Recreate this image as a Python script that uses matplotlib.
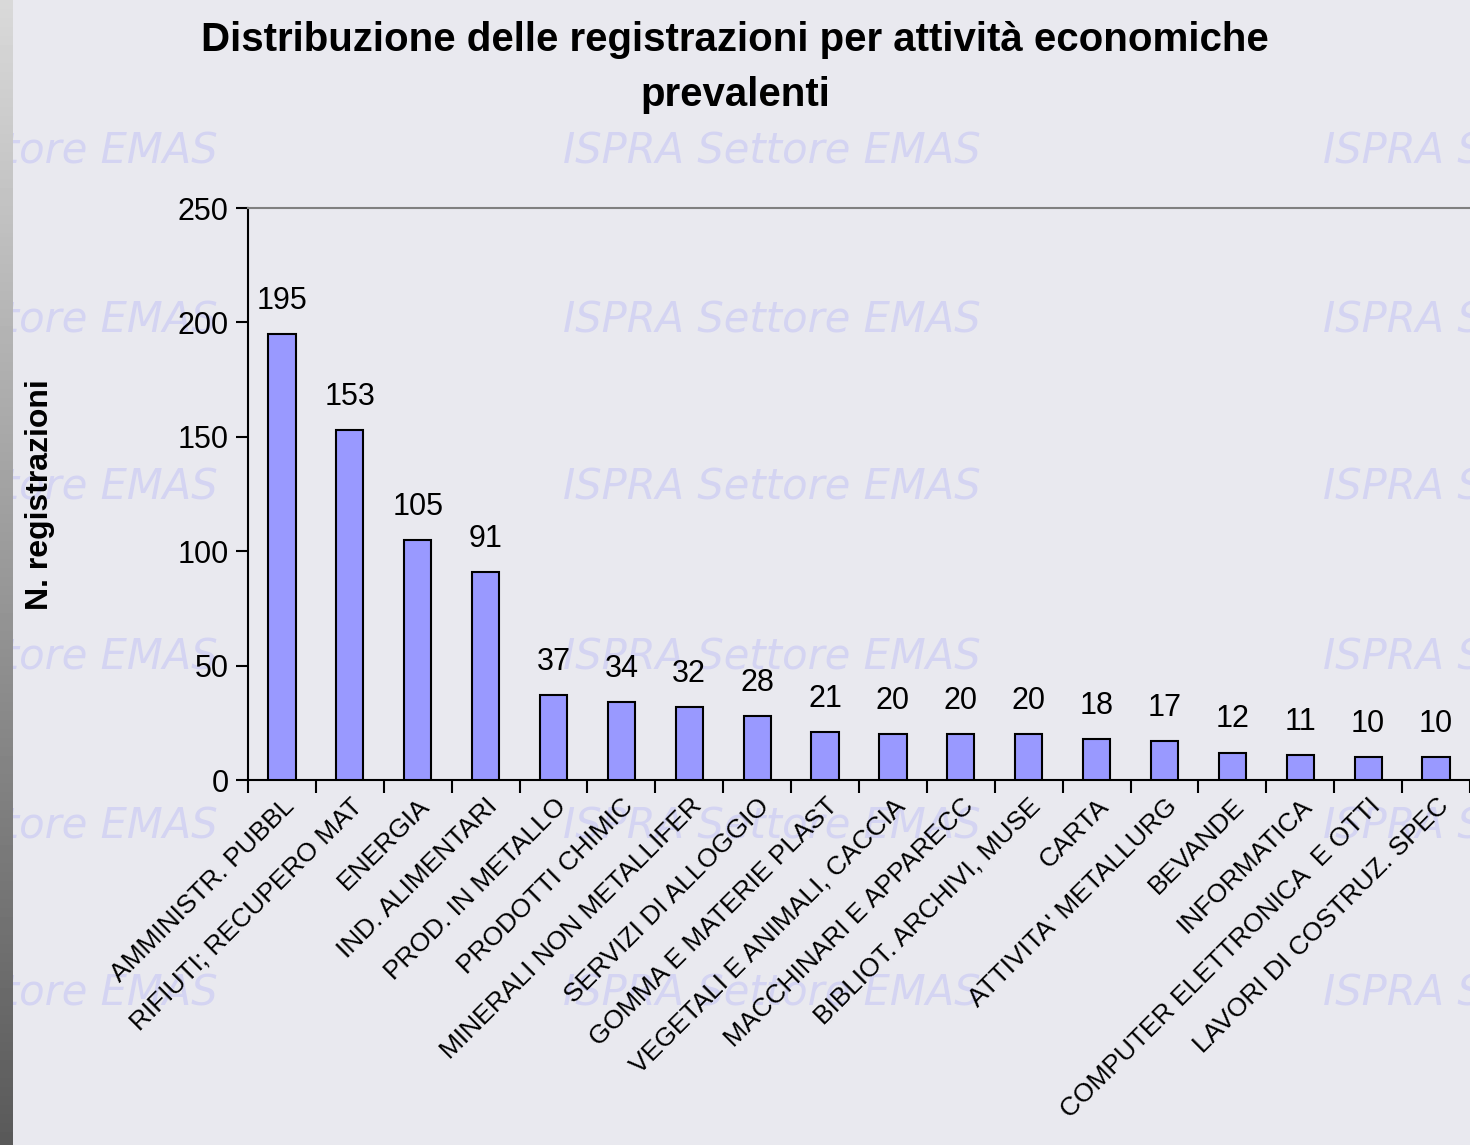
import matplotlib.pyplot as plt
import numpy as np

# dati
categorie = [
    "AMMINISTR. PUBBL",
    "RIFIUTI; RECUPERO MAT",
    "ENERGIA",
    "IND. ALIMENTARI",
    "PROD. IN METALLO",
    "PRODOTTI CHIMIC",
    "MINERALI NON METALLIFER",
    "SERVIZI DI ALLOGGIO",
    "GOMMA E MATERIE PLAST",
    "VEGETALI E ANIMALI, CACCIA",
    "MACCHINARI E APPARECC",
    "BIBLIOT. ARCHIVI, MUSE",
    "CARTA",
    "ATTIVITA' METALLURG",
    "BEVANDE",
    "INFORMATICA",
    "COMPUTER ELETTRONICA  E OTTI",
    "LAVORI DI COSTRUZ. SPEC",
]
registrazioni = [195, 153, 105, 91, 37, 34, 32, 28, 21, 20, 20, 20, 18, 17, 12, 11, 10, 10]
y_ticks = [0, 50, 100, 150, 200, 250]

sfondo = "#E9E9EF"
barre = "#9999FF"

plt.rcParams["font.family"] = ["Liberation Sans", "DejaVu Sans"]

fig = plt.figure(figsize=(14.7, 11.45), dpi=100, facecolor=sfondo)

# striscia grigia a sinistra e bordo bianco in alto
strip = fig.add_axes([0, 0, 12 / 1470, 1])
grad = np.linspace(0.85, 0.35, 256).reshape(-1, 1)
strip.imshow(grad, aspect="auto", cmap="gray", vmin=0, vmax=1)
strip.axis("off")
top = fig.add_axes([0, 1 - 10 / 1145, 1, 10 / 1145])
top.set_facecolor("white")
top.axis("off")

# filigrana
for x in [-0.136, 0.383, 0.900]:
    for y in [0.868, 0.720, 0.574, 0.426, 0.278, 0.132]:
        fig.text(x, y, "ISPRA Settore EMAS", fontsize=30, style="italic",
                 family="DejaVu Sans", color="#D4D4F2", ha="left", va="center",
                 zorder=-5)

ax = fig.add_axes([248 / 1470, 1 - 780 / 1145, 1 - 248 / 1470, (780 - 208) / 1145])
ax.set_facecolor("none")

x = np.arange(len(categorie))
ax.bar(x, registrazioni, width=0.4, color=barre, edgecolor="black", linewidth=1.5, zorder=3)

for xi, v in zip(x, registrazioni):
    ax.annotate(str(v), (xi, v), xytext=(0, 13), textcoords="offset points",
                ha="center", va="bottom", fontsize=22)

ax.set_xlim(-0.5, 17.44)
ax.set_ylim(0, 250)
ax.set_yticks(y_ticks)
ax.tick_params(axis="y", labelsize=22, length=9, width=1.5, pad=5, direction="out")

ax.set_xticks(np.arange(len(categorie) + 1) - 0.5)
ax.set_xticklabels([])
ax.tick_params(axis="x", which="major", length=9, width=1.5, direction="out")
ax.set_xticks(x, minor=True)
ax.set_xticklabels(categorie, minor=True, rotation=45, ha="right", va="top",
                   rotation_mode="anchor", fontsize=19)
ax.tick_params(axis="x", which="minor", length=0, pad=10)

ax.spines["right"].set_visible(False)
ax.spines["top"].set_color("#808080")
ax.spines["top"].set_linewidth(1.5)
ax.spines["left"].set_linewidth(1.5)
ax.spines["bottom"].set_linewidth(1.5)

fig.text(40 / 1470, 1 - 495 / 1145, "N. registrazioni", rotation=90,
         ha="center", va="center", fontsize=23, fontweight="bold")

fig.text(0.5, 1 - 21 / 1145, "Distribuzione delle registrazioni per attività economiche\nprevalenti",
         ha="center", va="top", fontsize=29, fontweight="bold", linespacing=1.55)

fig.savefig("out.png", dpi=100, facecolor=sfondo)
